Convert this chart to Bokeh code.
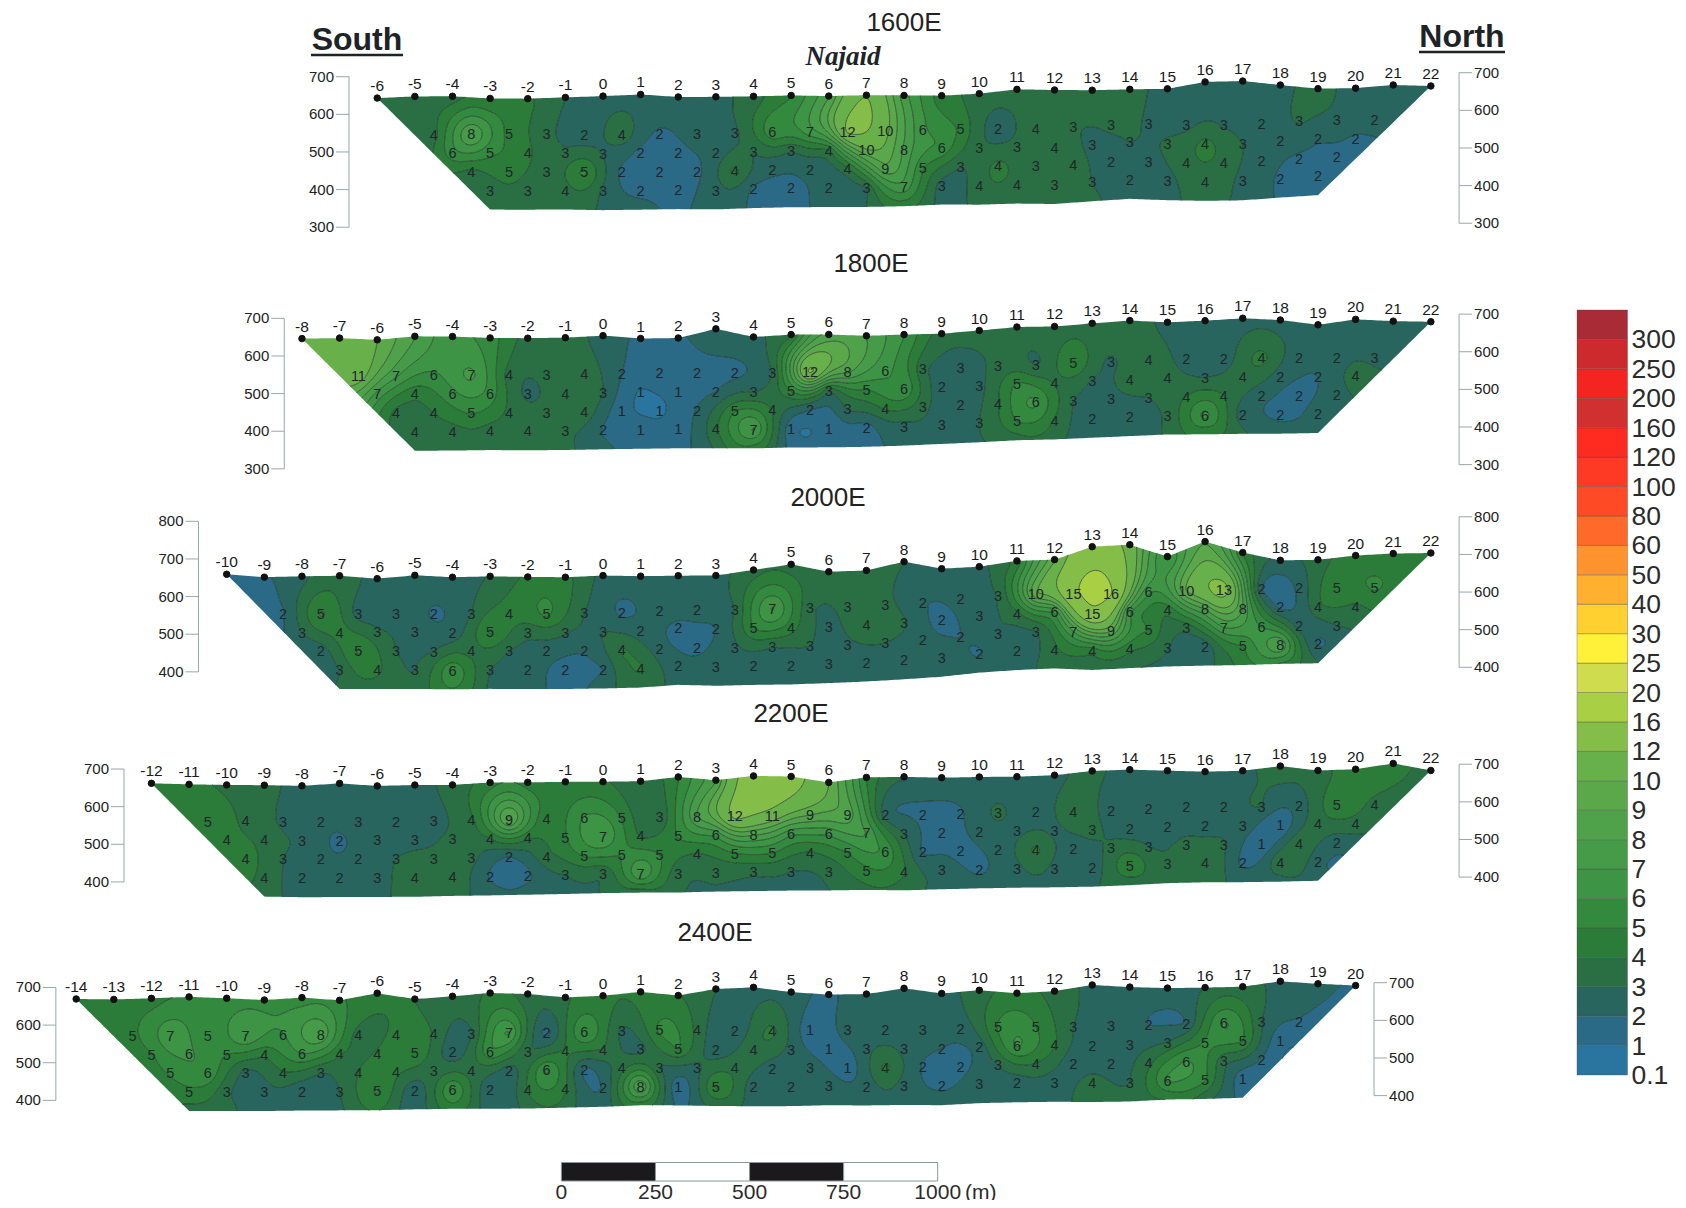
import numpy as np
from bokeh.plotting import figure
from bokeh.models import Range1d
from bokeh.core.properties import value
from bokeh.embed import file_html
from bokeh.resources import INLINE

# ---------- legend ----------
levels = [0.1,1,2,3,4,5,6,7,8,9,10,12,16,20,25,30,40,50,60,80,100,120,160,200,250,300,1000]
level_labels = ["0.1","1","2","3","4","5","6","7","8","9","10","12","16","20","25","30","40","50","60","80","100","120","160","200","250","300"]
palette = ["#2a75a0","#2a6a87","#27655e","#296f43","#2a7c38","#338a3e","#3d9445","#459b48","#4fa14a","#5aa84a",
           "#68b04a","#84bd48","#a9cf45","#cfdc4e","#fff03a","#ffd030","#ffb02e","#ff942e","#ff6a2a","#ff4a26",
           "#ff3a24","#ff2a20","#d03030","#f42420","#cc2a2c","#a82b35"]
scale_ticks = [0,250,500,750,1000]

# ---------- 1600E ----------
s1600_first = -6
s1600_surface = [643,647,647,641,640,643,646,650,643,643,644,646,644,646,645,644,649,660,658,657,659,660,678,680,669,659,660,668,665]
s1600_bottom_first = -3
s1600_bottom = [345.5,345,345,343,344,345,344,347,349,349,349,350.5,354.6,354,356.5,355,362,368,364,362,363,370,376]
s1600_r1 = [3.6,8.0,4.7,3.3,2.4,3.6,1.8,2.6,2.8,5.7,6.6,12.2,10.4,6.2,4.8,2.4,3.7,3.1,3.2,2.9,2.7,2.9,2.4,3.1,2.7,2.3]
s1600_r2 = [5.6,5.2,4.2,3.2,2.9,1.7,1.7,2.4,3.0,3.1,3.9,9.8,7.8,5.8,3.2,3.3,3.8,2.7,3.0,3.1,4.3,3.0,2.3,2.1,1.9]
s1600_r3 = [3.7,4.7,3.4,5.2,1.8,1.7,1.8,4.2,2.3,2.4,3.7,8.7,5.1,3.0,4.3,3.3,3.6,2.4,2.7,3.6,3.6,2.4,1.9,1.8]
s1600_r4 = [3.3,3.3,3.6,2.8,1.7,1.7,2.6,1.8,1.7,2.4,3.0,6.6,2.6,3.6,3.6,3.3,3.0,2.4,2.7,3.6,2.7,1.9,1.7]
s1600_top = [3,3.5,3.6,4.1,4.2,3,2.6,2.7,2.7,2.8,3.5,5,8,12,7.5,4.5,3.6,3.5,3.5,3.5,3.4,2.6,2.7,2.7,2.7,3.3,2.6,2.6,2.6]
s1600_base = [3.3,3.3,3.4,2.8,2.4,1.8,2.6,1.8,1.7,2.4,3,4.5,2.7,3.4,3.5,3.5,3.2,2.6,2.7,3.4,2.7,1.9,1.7]

# ---------- 1800E ----------
s1800_first = -8
s1800_surface = [646,647,642,651,650,646,645,646,651,643,644,668,646,652,652,648,651,653,661,670,671,679,686,681,685,691,686,673,687,682,680]
s1800_bottom_first = -5
s1800_bottom = [347,347,348,347,347.5,349,350,351,350.5,350,352,352,353,356,360,364,369,371,375,379,383,383,384,384,385.5]
s1800_r1 = [10.8,7.2,5.8,7.2,3.6,3.3,3.6,2.0,1.7,1.7,1.8,3.0,12.3,8.2,6.2,3.3,2.7,3.3,2.9,4.9,2.8,4.0,2.4,2.4,4.3,2.4,2.4,2.7]
s1800_r2 = [6.6,4.3,5.7,5.6,2.8,3.6,3.0,0.9,1.3,2.0,3.0,5.0,3.2,4.9,5.9,2.4,2.7,5.1,3.9,2.9,3.6,3.6,3.0,3.7,2.4,2.0,3.6]
s1800_r3 = [3.7,4.0,5.1,3.8,3.3,3.6,1.3,0.9,2.1,4.9,3.9,2.0,3.1,4.1,3.3,2.4,3.9,6.2,3.0,2.7,3.0,4.0,4.0,2.3,1.8,2.4]
s1800_r4 = [3.6,3.6,3.6,3.6,3.1,1.9,1.4,1.4,3.8,7.1,1.3,1.3,1.6,2.7,2.8,3.0,5.0,3.9,2.3,2.3,3.2,6.3,2.4,1.8,2.3]
s1800_top = [11,10.5,10,8,6.2,5.5,3.6,3.4,2.6,1.8,1.8,2.8,2.9,4,8.5,8,6,3.5,3.3,3.4,3.5,3.6,3.6,2.6,2.6,2.6,2.6,2.6,2.6,2.6,2.6]
s1800_base = [3.5,3.3,3.4,3.4,3.2,2.3,1.7,1.6,3.2,4.7,1.6,1.6,1.7,2.5,2.7,2.9,3.6,3.4,2.4,2.5,3.2,4.3,3.2,2.4,2.2]

# ---------- 2000E ----------
s2000_first = -10
s2000_surface = [659,651,653,654,646,654.5,649,651,649,648,652,650,651,651,665.5,680,660,663,686,667,672,687,690,724,729,697,736.5,707,686,687,698,703,704]
s2000_bottom_first = -7
s2000_bottom = [353,353,352.5,351,352,351,351,352,354,361,358,360,361,364,368,373.5,380,390.5,397,401,396.5,401,405,407,408,411,412]
s2000_r1 = [1.9,5.1,2.6,2.7,1.9,3.0,4.3,5.2,3.0,1.8,2.4,2.4,3.0,7.1,3.2,3.3,3.2,2.1,2.4,3.1,9.8,15,16.2,6.2,10,13,2.0,2.3,4.9,5.1]
s2000_r2 = [3.0,4.3,3.2,2.7,2.4,5.1,3.3,3.1,3.0,2.4,1.8,2.0,5.0,4.4,2.7,3.8,3.1,1.7,2.6,3.7,6.2,14.8,6.2,4.3,8,8,1.8,3.8,3.8]
s2000_r3 = [2.4,5.1,3.0,3.0,3.7,3.0,2.4,2.1,4.1,2.4,1.8,2.8,3.0,3.0,2.8,3.0,2.4,2.0,3.0,3.0,7,9,5,3.3,7,6,2.4,3.0]
s2000_r4 = [3.0,4.2,3.0,5.8,3.0,2.4,1.7,2.0,4.1,2.4,2.6,2.4,2.3,2.6,2.4,2.4,2.6,1.9,2.4,3.8,4.3,4.2,3.1,2.3,5,8,1.9]
s2000_top = [1.8,1.9,2.7,3.6,2.7,2.6,2.6,3.1,4.2,4.3,2.7,2.6,2.6,2.7,3.6,3.6,3.3,3.4,3.0,2.6,2.8,4.5,10,14,11,6,9,5,2.8,3.5,4.4,4.5,4.3]
s2000_base = [3.2,3.6,3.2,5,2.8,2.4,1.7,2.6,3.4,2.7,2.6,2.6,2.6,2.6,2.6,2.6,2.6,2.6,2.8,3.5,3.6,3.2,2.7,2.7,4.5,5,3.0]

# ---------- 2200E ----------
s2200_first = -12
s2200_surface = [667,664,662,661,659,665,658,660,660,666,666,667,667,668,679,670,681,679,663,676,677,674.5,676,676.5,680,691,694,691,688,690,702,690,693,708,689]
s2200_bottom_first = -9
s2200_bottom = [365,363,363,363,363,365,366,367.5,369,371,372,372,374,375,376,376,377,375.5,378,380,381.5,382,383.5,387,392,394,394,395,397]
s2200_r1 = [4.9,3.8,2.8,2.3,2.7,2.3,2.7,3.7,9.2,4.2,6.1,4.9,3.2,8.0,12.5,11,9,8.6,2.4,1.9,1.9,3.2,2.4,3.8,2.4,2.4,2.4,2.4,3.0,2.4,4.7,3.7]
s2200_r2 = [4.3,3.7,2.9,1.8,2.7,2.8,3.2,3.9,4.1,4.9,7,3.9,5.1,6.2,8.1,6.2,6.2,7,3.0,1.8,2.4,2.7,2.8,3.3,2.4,2.4,2.4,2.8,1.0,3.6,3.6]
s2200_r3 = [4.4,3.0,2.3,2.4,3.0,3.2,3.3,1.9,3.7,5.1,5,5,3.9,4.9,5,3.9,5,5.8,1.9,1.7,2.4,4.2,2.4,3.2,3.0,3.4,3.1,1.0,3.9,2.3]
s2200_r4 = [3.7,2.4,2.3,2.6,3.6,3.6,1.9,1.8,3.0,3.1,7,3.3,3.3,3.2,3.0,3.3,4.7,4.1,2.8,1.8,2.7,2.7,2.4,5,3.1,4.0,1.8,4,2.2]
s2200_top = [4.2,4.2,3.8,3.4,2.6,2.6,2.6,2.7,3.4,4.6,4.6,4.2,4.2,3.2,5,8,14,13,10,5,3,2.5,2.5,2.5,2.7,3.2,2.7,2.7,2.7,2.7,3.4,3.4,4.6,4.5,3.5]
s2200_base = [3.5,2.6,2.6,2.7,3.5,3.4,2.5,2.4,2.7,3.1,3.5,3.2,2.9,2.6,2.6,3.0,3.8,3.5,2.7,2.6,2.6,2.7,2.9,3.3,3.4,3.4,2.7,2.6,2.4]

# ---------- 2400E ----------
s2400_first = -14
s2400_surface = [678.5,677,679.5,683,679,674,680,672.5,691,675,682,690.5,687.5,678,682,692,682,699,703,690,683,684,699,685,693,685,690,706,700,697,698,700,714,707,702]
s2400_bottom_first = -11
s2400_bottom = [380,379.5,379,380,380,380,382,383,383,383,385,387,390.5,390,388,387,387,389,388,389,388,393,395,396,395,396,401,402,405]
s2400_r1 = [4.8,6.8,5.1,7,5.9,7.8,3.6,4.2,3.9,2.8,7.1,1.7,6,2.8,5.2,3.7,2.0,4.2,1.3,2.6,2.4,2.6,2.4,5.1,5.0,3.0,2.7,2.0,2.1,6.1,3.0,1.9]
s2400_r2 = [4.9,6.1,5.0,4.2,6.0,4.1,4.1,5.0,2.4,5.8,3.0,4.1,3.9,2.7,5.0,2.4,3.9,2.7,1.3,2.7,2.7,2.0,2.4,6.1,4.1,2.4,2.7,3.1,5.1,5.0,1.3]
s2400_r3 = [5.1,5.8,2.7,3.9,3.0,4.0,4.2,3.3,3.6,2.4,6.1,1.8,3.6,3.0,2.8,3.7,2.4,2.7,1.4,4.2,1.9,1.7,3.0,3.9,2.4,2.4,3.7,6.1,3.3,1.9]
s2400_r4 = [4.7,3.2,2.8,2.3,3.0,5.1,2.3,6,2.1,4.1,4.1,2.1,8,1.3,5.1,2.4,2.4,2.7,2.4,2.6,1.8,2.7,2.4,2.6,3.5,3.0,6.1,5.1,1.4]
s2400_top = [4.4,4.4,4.6,5.1,5.3,5.6,5.6,5.3,4.2,4.0,3.4,4.2,3.4,3.8,4.2,4.2,4.1,3.0,2.7,2.6,1.8,2.6,2.6,2.7,3.5,4.4,3.6,2.8,2.6,2.6,3.1,3.4,2.8,2.3,1.8]
s2400_base = [3.7,3.3,2.8,2.4,2.8,4.1,2.4,4.6,2.4,3.4,3.6,2.4,4.6,1.8,3.4,2.6,2.6,2.7,2.6,2.6,2.6,2.6,2.6,2.7,3.4,3.3,4.1,3.4,1.7]

panels = [
    dict(name="1600E", first=s1600_first, surf=s1600_surface, bfirst=s1600_bottom_first, bot=s1600_bottom,
         r=[s1600_r1,s1600_r2,s1600_r3,s1600_r4], top=s1600_top, base=s1600_base, starts=[-4.5,-4,-3.5,-3],
         y700=75.8, ticks=[700,600,500,400,300], axl=-6.75, axr=22.75, title=(904,22), tick_up=0),
    dict(name="1800E", first=s1800_first, surf=s1800_surface, bfirst=s1800_bottom_first, bot=s1800_bottom,
         r=[s1800_r1,s1800_r2,s1800_r3,s1800_r4], top=s1800_top, base=s1800_base, starts=[-6.5,-6,-5.5,-5],
         y700=317.2, ticks=[700,600,500,400,300], axl=-8.47, axr=22.75, title=(871,263), tick_up=0),
    dict(name="2000E", first=s2000_first, surf=s2000_surface, bfirst=s2000_bottom_first, bot=s2000_bottom,
         r=[s2000_r1,s2000_r2,s2000_r3,s2000_r4], top=s2000_top, base=s2000_base, starts=[-8.5,-8,-7.5,-7],
         y700=557.5, ticks=[800,700,600,500,400], axl=-10.75, axr=22.75, title=(828,497), tick_up=0),
    dict(name="2200E", first=s2200_first, surf=s2200_surface, bfirst=s2200_bottom_first, bot=s2200_bottom,
         r=[s2200_r1,s2200_r2,s2200_r3,s2200_r4], top=s2200_top, base=s2200_base, starts=[-10.5,-10,-9.5,-9],
         y700=769.3, ticks=[700,600,500,400], axl=-12.73, axr=22.75, title=(791,713), tick_up=2),
    dict(name="2400E", first=s2400_first, surf=s2400_surface, bfirst=s2400_bottom_first, bot=s2400_bottom,
         r=[s2400_r1,s2400_r2,s2400_r3,s2400_r4], top=s2400_top, base=s2400_base, starts=[-12.5,-12,-11.5,-11],
         y700=989.0, ticks=[700,600,500,400], axl=-14.54, axr=20.49, title=(715,932), tick_up=3.5),
]

K = 0.3763       # page pixels per metre (both directions, 1:1 section)
X0_PAGE = 603.0  # sheet x of station 0
TILT = 0.0036    # slight rotation of the sheet
ROW_H = [200, 150, 100, 50]
WIDTH, HEIGHT = 1678, 1200
ORIGIN = 0.5
FONT = value("Liberation Sans")

def px(page_x):
    return (page_x - X0_PAGE) / K
def py(page_y):
    return -page_y / K

p = figure(width=WIDTH, height=HEIGHT, output_backend="svg", toolbar_location=None,
           x_range=Range1d(px(ORIGIN), px(ORIGIN + WIDTH)), y_range=Range1d(py(ORIGIN + HEIGHT), py(ORIGIN)),
           x_axis_location=None, y_axis_location=None, min_border=0,
           outline_line_color=None, background_fill_color="white", border_fill_color="white")
p.grid.visible = False

def kernel(r2):
    # r^1.4: stiff enough for smooth bands, loose enough for little overshoot at peaks
    return np.power(r2, 0.7)

def fit_surface(xs, ys, vs, qx, qy):
    u = 100.0
    a = np.column_stack([xs, ys]) / u
    n = len(vs)
    d2 = ((a[:, None, :] - a[None, :, :]) ** 2).sum(-1)
    A = kernel(d2)
    P = np.ones((n, 1))
    M = np.block([[A, P], [P.T, np.zeros((1, 1))]])
    sol = np.linalg.solve(M, np.r_[vs, 0.0])
    w, c = sol[:n], sol[n]
    q = np.column_stack([qx.ravel(), qy.ravel()]) / u
    out = np.empty(len(q))
    for i in range(0, len(q), 2000):
        b = q[i:i + 2000]
        dd = ((b[:, None, :] - a[None, :, :]) ** 2).sum(-1)
        out[i:i + 2000] = kernel(dd) @ w + c
    return out.reshape(qx.shape)

for P in panels:
    surf = np.array(P["surf"], float)
    st = P["first"] + np.arange(len(surf))
    bot = np.array(P["bot"], float)
    bs = P["bfirst"] + np.arange(len(bot))

    def to_sheet(x_m, e):
        return (e - 700) + py(P["y700"]) + TILT * x_m

    xs, es, vs = [], [], []
    lx, ly, lt = [], [], []
    for row, start, h in zip(P["r"], P["starts"], ROW_H):
        for i, v in enumerate(row):
            s = start + i
            e = np.interp(s, bs, bot) + h
            xs.append(s * 100); es.append(e); vs.append(v)
            lx.append(s * 100); ly.append(to_sheet(s * 100, e)); lt.append(str(int(round(v))))
    for s, e, v in zip(st, surf, P["top"]):
        xs.append(s * 100); es.append(e - 5); vs.append(v)
    for s, e, v in zip(bs, bot, P["base"]):
        xs.append(s * 100); es.append(e + 3); vs.append(v)

    ncol = (len(st) - 1) * 12 + 1
    sg = np.linspace(st[0], st[-1], ncol)
    top_e = np.interp(sg, st, surf)
    low_e = np.interp(sg, bs, bot)
    left = sg < bs[0]
    low_e[left] = np.interp(sg[left], [st[0], bs[0]], [surf[0], bot[0]])
    right = sg > bs[-1]
    low_e[right] = np.interp(sg[right], [bs[-1], st[-1]], [bot[-1], surf[-1]])
    frac = np.linspace(0, 1, 38)[:, None]
    mx = np.tile(sg * 100, (38, 1))
    me = low_e[None, :] + frac * (top_e - low_e)[None, :]
    mz = fit_surface(np.array(xs), np.array(es), np.array(vs), mx, me)
    mz = np.clip(mz, 0.15, 900)

    p.contour(mx, to_sheet(mx, me), mz, levels, fill_color=palette, line_color="#17241c",
              line_width=0.7, line_alpha=0.9)

    p.text(x=lx, y=ly, text=lt, text_font=FONT, text_font_size=value("14.5px"), text_color="#20262a",
           text_align="center", text_baseline="middle")

    dot_x = st * 100.0
    dot_y = to_sheet(dot_x, surf)
    p.scatter(dot_x, dot_y, size=6.5, color="#111111")
    p.text(x=dot_x, y=dot_y, text=[str(int(v)) for v in st], text_font=FONT, text_font_size=value("15.5px"),
           text_color="#1a1a1a", text_align="center", text_baseline="middle", y_offset=-12)

    ticks = np.array(P["ticks"], float)
    tick_len = 13 / K
    for side, sx, sgn, align in ((0, P["axl"], -1, "right"), (1, P["axr"], 1, "left")):
        ax = sx * 100.0
        ty = to_sheet(ax, ticks) + P["tick_up"] / K
        p.segment(x0=[ax], y0=[ty[0]], x1=[ax], y1=[ty[-1]], line_color="#9aa7a9", line_width=1)
        p.segment(x0=[ax] * len(ty), y0=ty, x1=[ax + sgn * tick_len] * len(ty), y1=ty,
                  line_color="#9aa7a9", line_width=1)
        p.text(x=[ax + sgn * (tick_len + 2 / K)] * len(ty), y=ty, text=[str(int(t)) for t in ticks],
               text_font=FONT, text_font_size=value("15px"), text_color="#222222",
               text_align=align, text_baseline="middle")

    p.text(x=[px(P["title"][0])], y=[py(P["title"][1])], text=[P["name"]], text_font=FONT,
           text_font_size=value("26px"), text_color="#222222", text_align="center", text_baseline="middle")

# headings
for label, cx, mid, ux0, ux1, uy in (("South", 357, 39, 311, 403, 55), ("North", 1462, 36, 1419, 1505, 52)):
    p.text(x=[px(cx)], y=[py(mid)], text=[label], text_font=FONT, text_font_style="bold",
           text_font_size=value("32px"), text_color="#1d2326", text_align="center", text_baseline="middle")
    p.segment(x0=[px(ux0)], y0=[py(uy)], x1=[px(ux1)], y1=[py(uy)], line_color="#1d2326", line_width=2.5)
p.text(x=[px(843)], y=[py(56)], text=["Najaid"], text_font=value("Liberation Serif"),
       text_font_style="bold italic", text_font_size=value("27px"), text_color="#1d2326",
       text_align="center", text_baseline="middle")

# colour legend
LEG_L, LEG_R, LEG_T, LEG_B = 1577, 1627.5, 310, 1075
n = len(palette)
step = (LEG_B - LEG_T) / n
rows = np.arange(n)
p.quad(left=[px(LEG_L)] * n, right=[px(LEG_R)] * n,
       bottom=[py(LEG_B - step * i) for i in rows], top=[py(LEG_B - step * (i + 1)) for i in rows],
       fill_color=palette, line_color="#4a4a4a", line_width=0.5, line_alpha=0.7)
p.text(x=[px(LEG_R + 4)] * n, y=[py(LEG_B - step * i) for i in rows], text=level_labels, text_font=FONT,
       text_font_size=value("26.5px"), text_color="#2b2b2b", text_align="left", text_baseline="middle")

# scale bar, in metres on the section's own scale
SB0 = px(561.4)
SBT, SBB = py(1162.5), py(1181)
sb = np.array(scale_ticks, float)
p.quad(left=SB0 + sb[:-1], right=SB0 + sb[1:], top=[SBT] * 4, bottom=[SBB] * 4,
       fill_color=["#1a1a1a", "#ffffff", "#1a1a1a", "#ffffff"], line_color="#8a9698", line_width=1)
p.text(x=SB0 + sb, y=[py(1191.5)] * 5, text=[str(v) for v in scale_ticks], text_font=FONT,
       text_font_size=value("21px"), text_color="#2b2b2b", text_align="center", text_baseline="middle")
p.text(x=[px(965)], y=[py(1191.5)], text=["(m)"], text_font=FONT, text_font_size=value("21px"),
       text_color="#2b2b2b", text_align="left", text_baseline="middle")

html = file_html(p, INLINE)
html = html.replace("<head>", "<head><style>html,body{overflow:hidden}body{margin-bottom:0}</style>", 1)
open("out.html", "w").write(html)
